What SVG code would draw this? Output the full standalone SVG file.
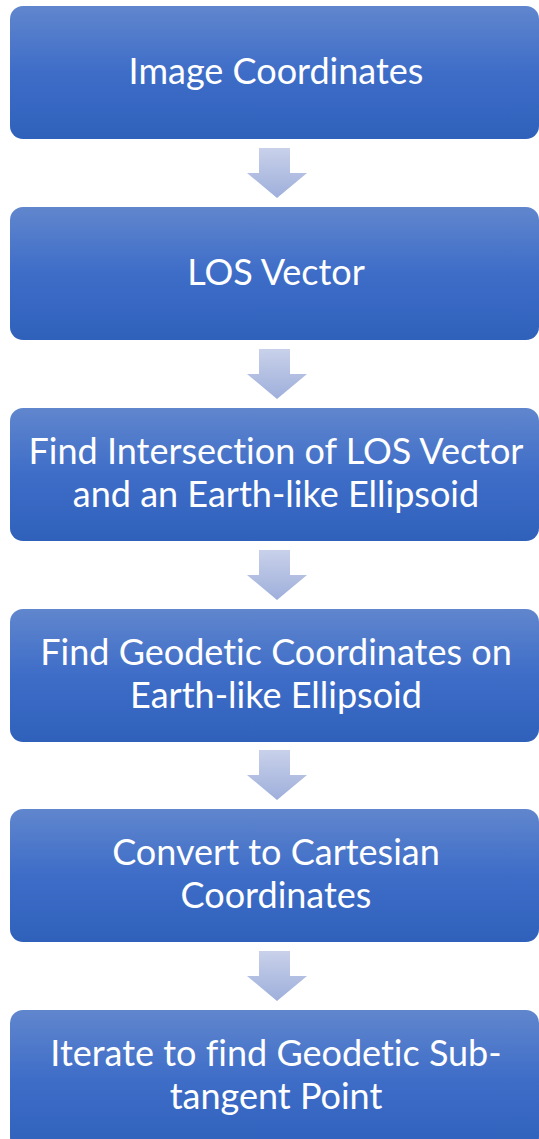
<svg xmlns="http://www.w3.org/2000/svg" width="539" height="1139" viewBox="0 0 539 1139">
<defs>
<linearGradient id="boxg" x1="0" y1="0" x2="0" y2="1">
<stop offset="0" stop-color="#6086cd"/>
<stop offset="0.5" stop-color="#3e6dc8"/>
<stop offset="1" stop-color="#2f61bb"/>
</linearGradient>
<linearGradient id="arrg" x1="0" y1="0" x2="0" y2="1">
<stop offset="0" stop-color="#c9d1ea"/>
<stop offset="1" stop-color="#9eafdb"/>
</linearGradient>
<style>
.box{fill:url(#boxg);}
.t{fill:#ffffff;font-family:Lato,"Open Sans","Liberation Sans",sans-serif;font-size:36px;text-anchor:middle;font-variant-ligatures:none;}
.arr{fill:url(#arrg);}
</style>
</defs>
<rect width="539" height="1139" fill="#ffffff"/>
<g id="connectors">
<path class="arr" d="M259,148 H290 V173 H307 L277,198 L247,173 H259 Z"/>
<path class="arr" d="M259,349 H290 V374 H307 L277,399 L247,374 H259 Z"/>
<path class="arr" d="M259,550 H290 V575 H307 L277,600 L247,575 H259 Z"/>
<path class="arr" d="M259,750 H290 V775 H307 L277,800 L247,775 H259 Z"/>
<path class="arr" d="M259,951 H290 V976 H307 L277,1001 L247,976 H259 Z"/>
</g>
<g id="node1"><rect class="box" x="10" y="6" width="529" height="133" rx="13"/><text class="t" x="276" y="84">Image Coordinates</text></g>
<g id="node2"><rect class="box" x="10" y="207" width="529" height="133" rx="13"/><text class="t" x="276" y="285">LOS Vector</text></g>
<g id="node3"><rect class="box" x="10" y="408" width="529" height="133" rx="13"/><text class="t" x="276" y="464">Find Intersection of LOS Vector</text><text class="t" x="276" y="507">and an Earth-like Ellipsoid</text></g>
<g id="node4"><rect class="box" x="10" y="609" width="529" height="133" rx="13"/><text class="t" x="276" y="665">Find Geodetic Coordinates on</text><text class="t" x="276" y="708">Earth-like Ellipsoid</text></g>
<g id="node5"><rect class="box" x="10" y="809" width="529" height="133" rx="13"/><text class="t" x="276" y="865">Convert to Cartesian</text><text class="t" x="276" y="908">Coordinates</text></g>
<g id="node6"><rect class="box" x="10" y="1010" width="529" height="140" rx="13"/><text class="t" x="276" y="1066">Iterate to find Geodetic Sub-</text><text class="t" x="276" y="1109">tangent Point</text></g>
</svg>
